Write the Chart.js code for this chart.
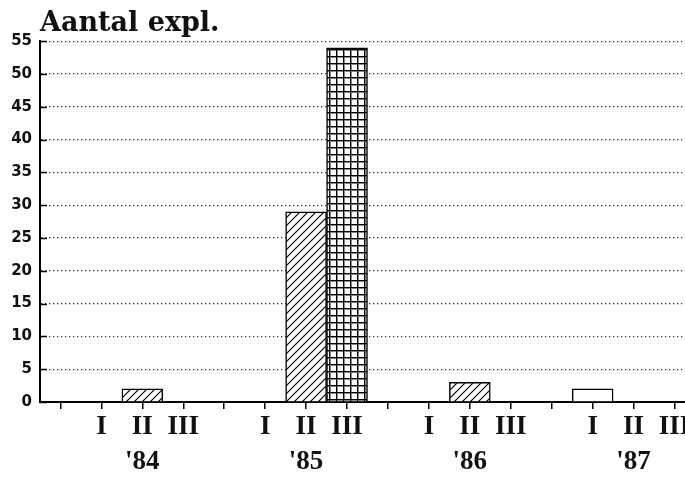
<!DOCTYPE html>
<html><head><meta charset="utf-8">
<script src="https://cdn.jsdelivr.net/npm/chart.js@4"></script>
<style>html,body{margin:0;padding:0;background:#fff;overflow:hidden}
#wrap{position:relative;width:695px;height:478px}</style>
</head><body><div id="wrap"><canvas id="c"></canvas></div>
<script>
const years = ["'84", "'85", "'86", "'87"];
const quarters = ["I", "II", "III"];
const quarterI = [0, 0, 0, 2];
const quarterII = [2, 29, 3, 0];
const quarterIII = [0, 54, 0, 0];
const yMax = 55;
const yStep = 5;

const labels = [];
const slotsI = [], slotsII = [], slotsIII = [];
years.forEach((y, yi) => {
  labels.push(['', '']);
  slotsI.push(null); slotsII.push(null); slotsIII.push(null);
  quarters.forEach((q, qi) => {
    labels.push([q, qi === 1 ? y : '']);
    slotsI.push(qi === 0 ? quarterI[yi] : null);
    slotsII.push(qi === 1 ? quarterII[yi] : null);
    slotsIII.push(qi === 2 ? quarterIII[yi] : null);
  });
});

function hatchPattern() {
  const c = document.createElement('canvas'); c.width = c.height = 8;
  const x = c.getContext('2d');
  x.fillStyle = '#fff'; x.fillRect(0, 0, 8, 8);
  x.strokeStyle = '#000'; x.lineWidth = 1.2;
  x.beginPath();
  x.moveTo(-2, 10); x.lineTo(10, -2);
  x.moveTo(-2, 2); x.lineTo(2, -2);
  x.moveTo(6, 10); x.lineTo(10, 6);
  x.stroke();
  return x.createPattern(c, 'repeat');
}
function gridPattern() {
  const c = document.createElement('canvas'); c.width = c.height = 7;
  const x = c.getContext('2d');
  x.fillStyle = '#fff'; x.fillRect(0, 0, 7, 7);
  x.fillStyle = '#888';
  x.fillRect(0, 1, 7, 1);
  x.fillRect(1, 0, 1, 7);
  x.fillStyle = '#000';
  x.fillRect(0, 0, 7, 1);
  x.fillRect(0, 0, 1, 7);
  return x.createPattern(c, 'repeat');
}

const yInnerTicks = {
  id: 'yInnerTicks',
  afterDraw(chart) {
    const s = chart.scales.y, ctx = chart.ctx, a = chart.chartArea;
    ctx.save(); ctx.strokeStyle = '#000'; ctx.lineWidth = 1.5;
    s.ticks.forEach(t => {
      const py = Math.round(s.getPixelForValue(t.value)) + 0.5;
      ctx.beginPath(); ctx.moveTo(a.left, py); ctx.lineTo(a.left + 7, py); ctx.stroke();
    });
    ctx.restore();
  }
};

const common = { borderColor: '#000', borderWidth: 1.5, grouped: false, barPercentage: 1, categoryPercentage: 1 };

new Chart(document.getElementById('c'), {
  type: 'bar',
  data: {
    labels: labels,
    datasets: [
      Object.assign({ label: 'I', data: slotsI, backgroundColor: '#fff' }, common),
      Object.assign({ label: 'II', data: slotsII, backgroundColor: hatchPattern() }, common),
      Object.assign({ label: 'III', data: slotsIII, backgroundColor: gridPattern() }, common)
    ]
  },
  plugins: [yInnerTicks],
  options: {
    responsive: true, maintainAspectRatio: false, animation: false,
    layout: { padding: 0 },
    plugins: {
      legend: { display: false }, tooltip: { enabled: false },
      title: {
        display: true, text: 'Aantal expl.', align: 'start', fullSize: false,
        color: '#111', font: { family: 'DejaVu Serif', weight: 'bold', size: 27, lineHeight: 1.2 },
        padding: { top: 8, bottom: 0.8 }
      }
    },
    scales: {
      x: {
        offset: true,
        grid: { drawOnChartArea: false, drawTicks: true, tickLength: 7, color: '#000', lineWidth: 1.5, offset: false },
        border: { display: true, color: '#000', width: 2 },
        ticks: { autoSkip: false, maxRotation: 0, minRotation: 0, padding: 0, color: '#111',
          font: { family: 'Liberation Serif', weight: 'bold', size: 27, lineHeight: 1.3 } },
        afterFit: s => { s.height = 76; }
      },
      y: {
        min: 0, max: yMax,
        grid: { drawTicks: false, color: '#333', lineWidth: 1.3 },
        border: { display: true, color: '#000', width: 2, dash: [1.3, 2.7] },
        ticks: { stepSize: yStep, padding: 8, color: '#111',
          font: { family: 'DejaVu Sans', weight: 'bold', size: 15 } },
        afterFit: s => { s.width = 40; }
      }
    }
  }
});
</script></body></html>
